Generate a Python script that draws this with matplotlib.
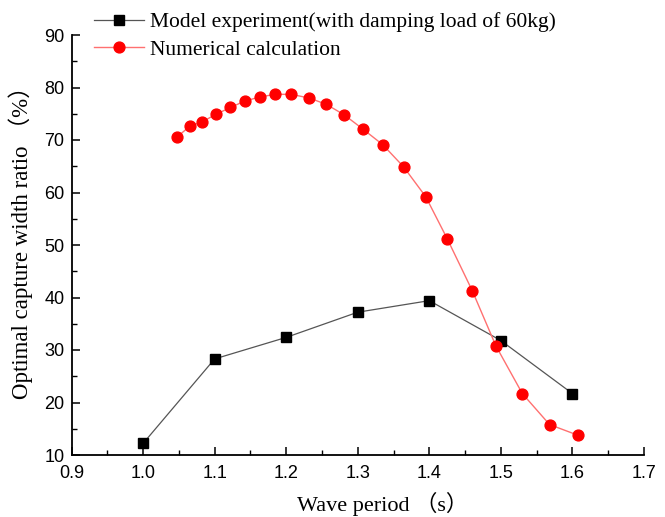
import matplotlib
matplotlib.use("Agg")
import matplotlib.pyplot as plt
from matplotlib.ticker import MultipleLocator

exp_x = [1.0, 1.1, 1.2, 1.3, 1.4, 1.5, 1.6]
exp_y = [12.2, 28.3, 32.4, 37.2, 39.4, 31.8, 21.7]

num_x = [1.047, 1.065, 1.083, 1.102, 1.122, 1.142, 1.163, 1.185, 1.207, 1.232,
         1.256, 1.281, 1.307, 1.335, 1.364, 1.395, 1.425, 1.460, 1.493, 1.530,
         1.568, 1.608]
num_y = [70.5, 72.6, 73.5, 74.9, 76.2, 77.4, 78.2, 78.7, 78.7, 78.0,
         76.8, 74.8, 72.1, 69.1, 64.9, 59.2, 51.2, 41.3, 30.8, 21.7,
         15.8, 13.75]

x_ticks = [0.9, 1.0, 1.1, 1.2, 1.3, 1.4, 1.5, 1.6, 1.7]
y_ticks = [10, 20, 30, 40, 50, 60, 70, 80, 90]

serif = ['Liberation Serif', 'Noto Sans CJK SC']
sans = ['Liberation Sans', 'DejaVu Sans']

fig = plt.figure(figsize=(6.65, 5.17), dpi=100)
W, H = 665, 517
ax = fig.add_axes([71.5 / W, (H - 455) / H, (644 - 71.5) / W, (455 - 35) / H])

ax.plot(exp_x, exp_y, color='#555555', lw=0.9, marker='s', ms=6.5,
        mfc='black', mec='black', label='Model experiment(with damping load of 60kg)')
ax.plot(num_x, num_y, color='#ff7070', lw=1.0, marker='o', ms=7.8,
        mfc='red', mec='red', label='Numerical calculation')

ax.set_xlim(0.9, 1.7)
ax.set_ylim(10, 90)
ax.set_xticks(x_ticks)
ax.set_yticks(y_ticks)
ax.set_xticklabels([f'{v:.1f}' for v in x_ticks], family=sans, fontsize=13)
ax.set_yticklabels([str(v) for v in y_ticks], family=sans, fontsize=13)
ax.xaxis.set_minor_locator(MultipleLocator(0.05))
ax.yaxis.set_minor_locator(MultipleLocator(5))
ax.tick_params(which='major', direction='in', length=5.5, width=1.1)
ax.tick_params(which='minor', direction='in', length=3.5, width=1.0)
ax.tick_params(axis='x', which='major', pad=7)
ax.tick_params(axis='y', which='major', pad=5)
ax.spines['top'].set_visible(False)
ax.spines['right'].set_visible(False)
for s in ('left', 'bottom'):
    ax.spines[s].set_linewidth(1.3)

ax.set_xlabel('Wave period （s）', family=serif, fontsize=16)
ax.xaxis.set_label_coords(0.544, -0.088)
ax.set_ylabel('Optimal capture width ratio （%）', family=serif, fontsize=16.5)
ax.yaxis.set_label_coords(-0.068, 0.52)

leg = fig.legend(loc='upper left', bbox_to_anchor=(90 / W, 1 - 8 / H),
                 frameon=False, prop={'family': serif, 'size': 15.5},
                 handlelength=2.3, handletextpad=0.3, labelspacing=0.35,
                 borderaxespad=0, borderpad=0.2)

fig.savefig('out.png', dpi=100)
